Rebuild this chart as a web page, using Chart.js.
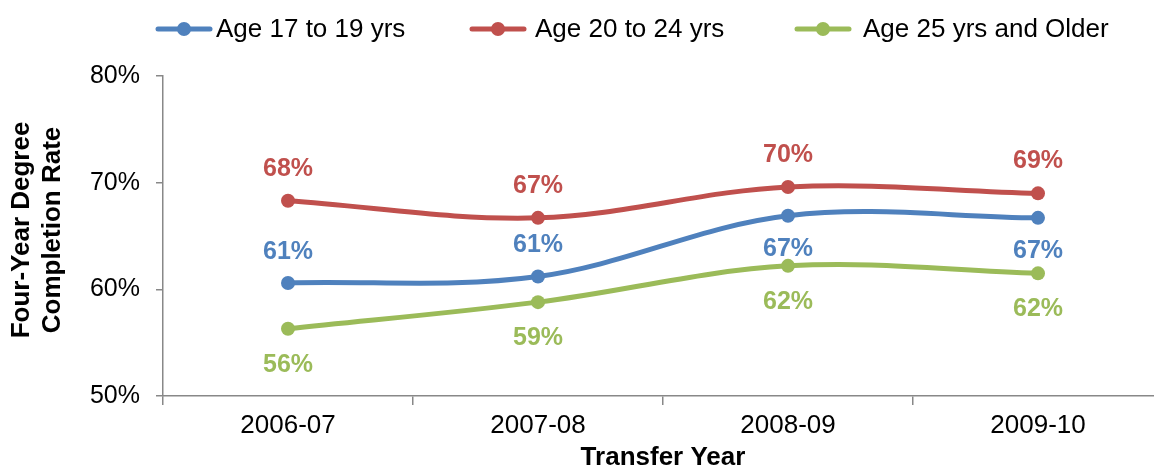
<!DOCTYPE html>
<html>
<head>
<meta charset="utf-8">
<script src="https://cdn.jsdelivr.net/npm/chart.js@4/dist/chart.umd.min.js"></script>
<style>
    html, body { margin: 0; padding: 0; background: #fff; overflow: hidden; }
    #wrap { width: 1170px; height: 468px; position: relative; }
</style>
</head>
<body>
<div id="wrap"><canvas id="chart"></canvas></div>
<script>
// Chart data
const years = ['2006-07', '2007-08', '2008-09', '2009-10'];
const seriesNames = ['Age 17 to 19 yrs', 'Age 20 to 24 yrs', 'Age 25 yrs and Older'];
const age17to19 = [60.6, 61.2, 66.9, 66.7];
const age20to24 = [68.3, 66.7, 69.6, 69.0];
const age25plus = [56.3, 58.8, 62.2, 61.5];
const labels17to19 = ['61%', '61%', '67%', '67%'];
const labels20to24 = ['68%', '67%', '70%', '69%'];
const labels25plus = ['56%', '59%', '62%', '62%'];
const yTicks = [50, 60, 70, 80];

const colors = ['#4F81BD', '#C0504D', '#9BBB59'];
const FONT = '"Liberation Sans", Arial, sans-serif';

// label placement: -1 above point, 1 below
const labelSides = [
    [-1, -1, 1, 1],
    [-1, -1, -1, -1],
    [1, 1, 1, 1]
];
const labelTexts = [labels17to19, labels20to24, labels25plus];

// Draws the value labels next to each point
const valueLabels = {
    id: 'valueLabels',
    afterDatasetsDraw(chart) {
        const ctx = chart.ctx;
        ctx.save();
        ctx.font = 'bold 25px ' + FONT;
        ctx.textAlign = 'center';
        ctx.textBaseline = 'middle';
        chart.data.datasets.forEach((ds, i) => {
            const meta = chart.getDatasetMeta(i);
            ctx.fillStyle = colors[i];
            meta.data.forEach((pt, j) => {
                const side = labelSides[i][j];
                let dy = side < 0 ? -31 : 33;
                if (i === 1) dy = -32;
                if (i === 2) dy = 36;
                ctx.fillText(labelTexts[i][j], pt.x, pt.y + dy);
            });
        });
        ctx.restore();
    }
};

// Legend with line samples and axis titles
const extras = {
    id: 'extras',
    afterDraw(chart) {
        const ctx = chart.ctx;
        const area = chart.chartArea;
        ctx.save();

        // legend
        const legendX = [156, 470, 795];
        const textX = [216, 535, 863];
        const legendY = 29;
        ctx.font = '26px ' + FONT;
        ctx.textBaseline = 'middle';
        ctx.textAlign = 'left';
        seriesNames.forEach((name, i) => {
            const x = legendX[i];
            ctx.strokeStyle = colors[i];
            ctx.lineWidth = 5;
            ctx.lineCap = 'round';
            ctx.beginPath();
            ctx.moveTo(x + 2, legendY);
            ctx.lineTo(x + 54, legendY);
            ctx.stroke();
            ctx.fillStyle = colors[i];
            ctx.beginPath();
            ctx.arc(x + 28, legendY, 7, 0, Math.PI * 2);
            ctx.fill();
            ctx.fillStyle = '#000';
            ctx.fillText(name, textX[i], legendY + 1);
        });

        // axis titles
        ctx.font = 'bold 26px ' + FONT;
        ctx.fillStyle = '#000';
        ctx.textAlign = 'center';
        ctx.fillText('Transfer Year', (area.left + area.right) / 2, 458);

        const midY = (area.top + area.bottom) / 2 - 6;
        ctx.translate(22, midY);
        ctx.rotate(-Math.PI / 2);
        ctx.fillText('Four-Year Degree', 0, 0);
        ctx.fillText('Completion Rate', 0, 31);
        ctx.restore();
    }
};

function buildDataset(label, data, color) {
    return {
        label: label,
        data: data,
        borderColor: color,
        backgroundColor: color,
        borderWidth: 5,
        pointRadius: 7,
        pointHoverRadius: 7,
        pointBorderWidth: 0,
        tension: 0.35,
        fill: false
    };
}

new Chart(document.getElementById('chart'), {
    type: 'line',
    data: {
        labels: years,
        datasets: [
            buildDataset(seriesNames[0], age17to19, colors[0]),
            buildDataset(seriesNames[1], age20to24, colors[1]),
            buildDataset(seriesNames[2], age25plus, colors[2])
        ]
    },
    options: {
        responsive: true,
        maintainAspectRatio: false,
        animation: false,
        layout: {
            padding: { top: 76, right: 7, left: 0, bottom: 0 }
        },
        plugins: {
            legend: { display: false },
            tooltip: { enabled: false }
        },
        scales: {
            x: {
                type: 'category',
                offset: true,
                grid: {
                    offset: true,
                    drawOnChartArea: false,
                    tickLength: 9,
                    color: '#888',
                    lineWidth: 1.5
                },
                border: { color: '#888', width: 1.5 },
                ticks: {
                    color: '#000',
                    font: { family: FONT, size: 26 },
                    padding: 5,
                    maxRotation: 0
                },
                afterFit(scale) { scale.height = 72; }
            },
            y: {
                min: 50,
                max: 80,
                afterBuildTicks(scale) {
                    scale.ticks = yTicks.map(v => ({ value: v }));
                },
                grid: {
                    drawOnChartArea: false,
                    tickLength: 7,
                    color: '#888',
                    lineWidth: 1.5
                },
                border: { color: '#888', width: 1.5 },
                ticks: {
                    color: '#000',
                    font: { family: FONT, size: 25 },
                    padding: 16,
                    callback: value => value + '%'
                },
                afterFit(scale) { scale.width = 163; }
            }
        }
    },
    plugins: [valueLabels, extras]
});
</script>
</body>
</html>
